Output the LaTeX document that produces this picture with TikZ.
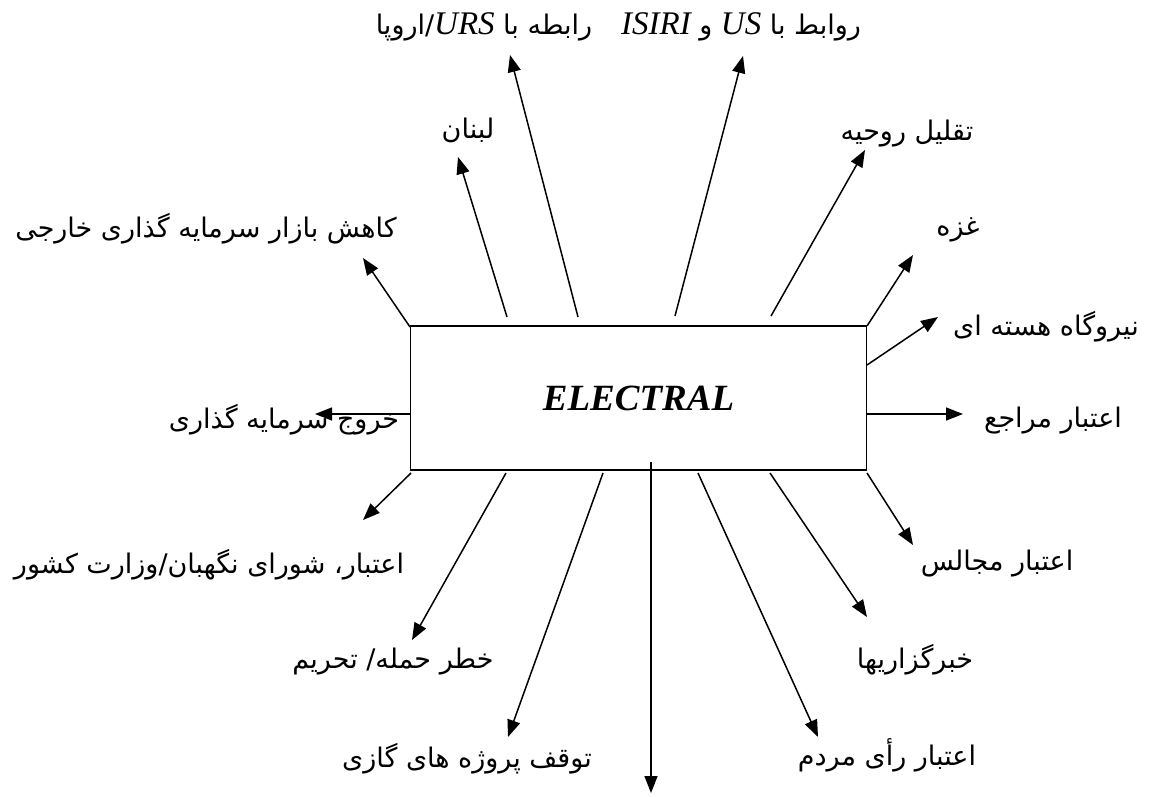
\documentclass[tikz,border=0pt]{standalone}
\usepackage{fontspec}
\usetikzlibrary{arrows.meta}
\TeXXeTstate=1
\newfontfamily\arabicfont[Script=Arabic]{DejaVu Sans}
\newfontfamily\latinserif{Liberation Serif}
\newcommand\latword[1]{{\latinserif\itshape\fontsize{33}{36}\selectfont #1}}
\begin{document}
\begin{tikzpicture}[x=1pt,y=-1pt,
  lbl/.style={anchor=base,inner sep=0pt,font=\arabicfont\fontsize{27}{30}\selectfont},
  arr/.style={-{Triangle[length=17pt,width=13pt]},line width=1.5pt},
  mainbox/.style={draw,line width=1.8pt,minimum width=456pt,minimum height=144pt,inner sep=0pt,
    font=\latinserif\bfseries\itshape\fontsize{37}{40}\selectfont}]
\useasboundingbox (0,0) rectangle (1156,796);
\node[mainbox] (box) at (638.5,398.3) {ELECTRAL};
% labels
\node[lbl] (l1) at (206,237) {\beginR کاهش بازار سرمایه گذاری خارجی\endR};
\node[lbl] (l2) at (468,138) {\beginR لبنان\endR};
\node[lbl] (l3) at (484,34) {\beginR رابطه با \latword{URS}/اروپا\endR};
\node[lbl] (l4) at (741,34) {\beginR روابط با \latword{US} و \latword{ISIRI}\endR};
\node[lbl] (l5) at (907,140) {\beginR تقلیل روحیه\endR};
\node[lbl] (l6) at (958,235) {\beginR غزه\endR};
\node[lbl] (l7) at (1046,335) {\beginR نیروگاه هسته ای\endR};
\node[lbl] (l8) at (1053,427) {\beginR اعتبار مراجع\endR};
\node[lbl] (l9) at (997,570) {\beginR اعتبار مجالس\endR};
\node[lbl] (l10) at (915,668) {\beginR خبرگزاریها\endR};
\node[lbl] (l11) at (887,765) {\beginR اعتبار رأی مردم\endR};
\node[lbl] (l12) at (467,767) {\beginR توقف پروژه های گازی\endR};
\node[lbl] (l13) at (393,668) {\beginR خطر حمله/ تحریم\endR};
\node[lbl] (l14) at (209,573) {\beginR اعتبار، شورای نگهبان/وزارت کشور\endR};
\node[lbl] (l15) at (284,428) {\beginR خروج سرمایه گذاری\endR};
% arrow ends
\coordinate (s1) at (410,327);  \coordinate (t1) at (363,258);
\coordinate (s2) at (507,317);  \coordinate (t2) at (458,157);
\coordinate (s3) at (578,317);  \coordinate (t3) at (510,55);
\coordinate (s4) at (675,316);  \coordinate (t4) at (743,56);
\coordinate (s5) at (771,316);  \coordinate (t5) at (865,150);
\coordinate (s6) at (867,326);  \coordinate (t6) at (913,255);
\coordinate (s7) at (867,365);  \coordinate (t7) at (938,317);
\coordinate (s8) at (867,414);  \coordinate (t8) at (963,414);
\coordinate (s9) at (867,473);  \coordinate (t9) at (913,545);
\coordinate (s10) at (770,473); \coordinate (t10) at (867,617);
\coordinate (s11) at (698,473); \coordinate (t11) at (818,737);
\coordinate (s12) at (651,462); \coordinate (t12) at (651,793);
\coordinate (s13) at (603,473); \coordinate (t13) at (508,737);
\coordinate (s14) at (506,473); \coordinate (t14) at (412,640);
\coordinate (s15) at (411,473); \coordinate (t15) at (363,520);
\coordinate (s16) at (410,414); \coordinate (t16) at (315,414);
\foreach \i in {1,...,16} {\draw[arr] (s\i) -- (t\i);}
\end{tikzpicture}
\end{document}
